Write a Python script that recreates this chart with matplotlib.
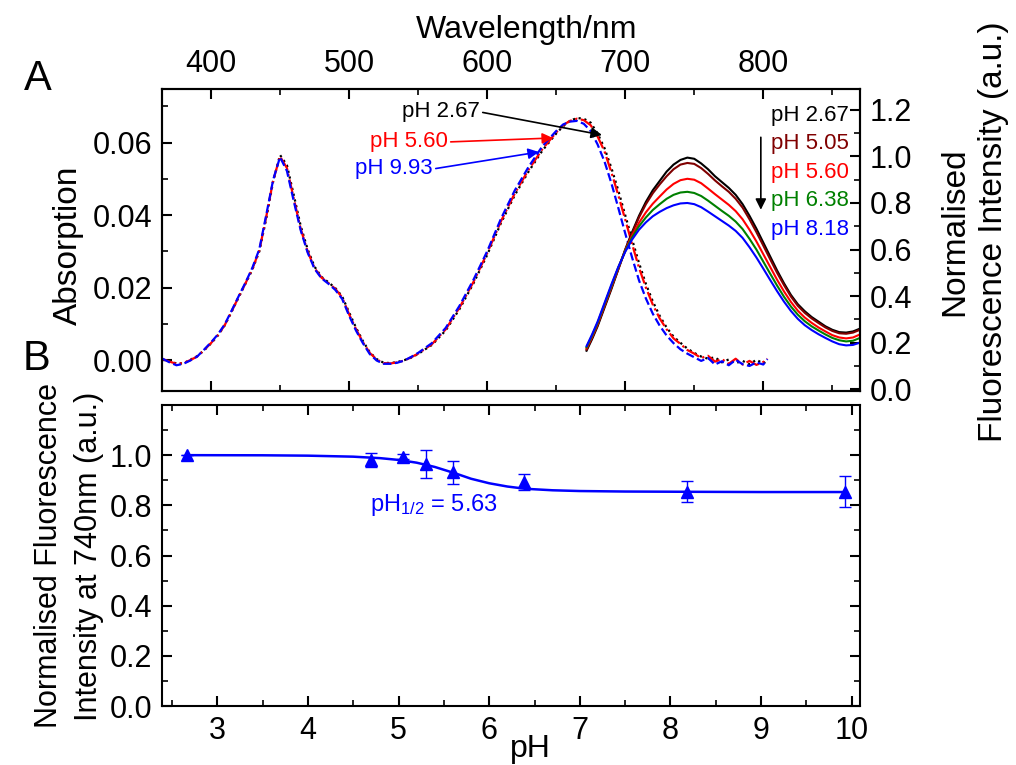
import matplotlib
matplotlib.use("Agg")
import matplotlib.pyplot as plt
from matplotlib.ticker import MultipleLocator, FormatStrFormatter, FixedLocator

plt.rcParams['font.family'] = ['Liberation Sans', 'DejaVu Sans']
plt.rcParams['mathtext.fontset'] = 'custom'
plt.rcParams['mathtext.rm'] = 'Liberation Sans'
plt.rcParams['mathtext.it'] = 'Liberation Sans:italic'

# ---- panel A: absorption spectra (left axis) ----
wl_abs = [365, 370, 375, 380, 385, 390, 395, 400, 405, 410, 415, 420, 425, 430, 435,
          440, 445, 450, 455, 460, 465, 470, 475, 480, 485, 490, 495, 500, 505, 510,
          515, 520, 525, 530, 535, 540, 545, 550, 560, 570, 580, 590, 600, 610, 620,
          630, 640, 650, 655, 660, 665, 670, 675, 680, 685, 690, 695, 700, 705, 710,
          715, 720, 725, 730, 735, 740, 745, 750, 755, 760, 765, 770, 775, 780, 785,
          790, 795, 800, 803]

abs_267 = [0.0001, -0.0003, -0.0009, -0.0009, 0.0001, 0.0011, 0.0027, 0.0046, 0.0068, 0.0096,
           0.0134, 0.0173, 0.0211, 0.0250, 0.0300, 0.0390, 0.0492, 0.0566, 0.0538, 0.0455,
           0.0370, 0.0306, 0.0258, 0.0230, 0.0215, 0.0199, 0.0176, 0.0132, 0.0090, 0.0053,
           0.0022, 0.0003, -0.0007, -0.0008, -0.0005, 0.0000, 0.0007, 0.0017, 0.0042, 0.0082,
           0.0141, 0.0211, 0.0290, 0.0378, 0.0455, 0.0520, 0.0578, 0.0625, 0.0645, 0.0660,
           0.0668, 0.0666, 0.0655, 0.0625, 0.0585, 0.0530, 0.0468, 0.0400, 0.0333, 0.0268,
           0.0210, 0.0162, 0.0122, 0.0090, 0.0065, 0.0048, 0.0032, 0.0020, 0.0010, 0.0004,
           0.0008, -0.0006, 0.0002, -0.0008, -0.0002, -0.0011, 0.0001, -0.0009, 0.0000]

abs_560 = [0.0003, -0.0004, -0.0010, -0.0008, 0.0000, 0.0010, 0.0028, 0.0047, 0.0069, 0.0097,
           0.0135, 0.0174, 0.0212, 0.0252, 0.0302, 0.0395, 0.0495, 0.0562, 0.0530, 0.0445,
           0.0362, 0.0300, 0.0254, 0.0228, 0.0213, 0.0197, 0.0173, 0.0127, 0.0086, 0.0050,
           0.0020, 0.0002, -0.0008, -0.0009, -0.0006, -0.0001, 0.0008, 0.0018, 0.0044, 0.0085,
           0.0145, 0.0215, 0.0295, 0.0383, 0.0460, 0.0525, 0.0582, 0.0628, 0.0648, 0.0660,
           0.0666, 0.0662, 0.0648, 0.0617, 0.0576, 0.0518, 0.0455, 0.0388, 0.0320, 0.0255,
           0.0200, 0.0153, 0.0115, 0.0085, 0.0060, 0.0045, 0.0028, 0.0018, 0.0006, 0.0012,
           -0.0004, 0.0003, -0.0010, 0.0004, -0.0012, -0.0002, -0.0013, -0.0005, 0.0004]

abs_993 = [0.0004, -0.0006, -0.0014, -0.0010, -0.0001, 0.0010, 0.0029, 0.0049, 0.0071, 0.0099,
           0.0137, 0.0176, 0.0214, 0.0255, 0.0306, 0.0400, 0.0497, 0.0560, 0.0522, 0.0438,
           0.0358, 0.0297, 0.0252, 0.0226, 0.0211, 0.0194, 0.0169, 0.0123, 0.0082, 0.0047,
           0.0017, -0.0001, -0.0010, -0.0010, -0.0007, -0.0001, 0.0009, 0.0020, 0.0047, 0.0089,
           0.0150, 0.0221, 0.0300, 0.0390, 0.0468, 0.0533, 0.0590, 0.0632, 0.0650, 0.0658,
           0.0660, 0.0652, 0.0632, 0.0595, 0.0548, 0.0488, 0.0420, 0.0350, 0.0283, 0.0220,
           0.0170, 0.0128, 0.0095, 0.0068, 0.0047, 0.0030, 0.0018, 0.0008, -0.0002, 0.0006,
           -0.0012, -0.0003, -0.0014, 0.0001, -0.0011, -0.0016, -0.0006, -0.0012, 0.0003]

# ---- panel A: fluorescence spectra (right axis) ----
wl_fl = [672, 676, 680, 685, 690, 695, 700, 705, 710, 715, 720, 725, 730, 735, 740,
         745, 750, 755, 760, 765, 770, 775, 780, 785, 790, 795, 800, 805, 810, 815,
         820, 825, 830, 835, 840, 845, 850, 855, 860, 865, 870]

fl_267 = [0.165, 0.215, 0.27, 0.35, 0.43, 0.515, 0.60, 0.675, 0.745, 0.805, 0.855, 0.895,
          0.935, 0.965, 0.985, 0.995, 0.99, 0.97, 0.945, 0.915, 0.89, 0.865, 0.835, 0.795,
          0.745, 0.69, 0.63, 0.57, 0.51, 0.455, 0.405, 0.365, 0.335, 0.31, 0.29, 0.27,
          0.255, 0.245, 0.243, 0.248, 0.26]
fl_505 = [0.17, 0.22, 0.275, 0.355, 0.435, 0.515, 0.598, 0.67, 0.738, 0.795, 0.842, 0.88,
          0.915, 0.945, 0.965, 0.972, 0.968, 0.95, 0.925, 0.897, 0.872, 0.848, 0.818, 0.78,
          0.73, 0.675, 0.617, 0.558, 0.50, 0.447, 0.398, 0.358, 0.328, 0.304, 0.284, 0.265,
          0.25, 0.24, 0.238, 0.243, 0.255]
fl_560 = [0.175, 0.225, 0.28, 0.36, 0.44, 0.52, 0.595, 0.66, 0.715, 0.76, 0.797, 0.828,
          0.858, 0.882, 0.898, 0.904, 0.90, 0.885, 0.862, 0.838, 0.815, 0.792, 0.765, 0.73,
          0.685, 0.635, 0.58, 0.525, 0.47, 0.42, 0.375, 0.337, 0.308, 0.285, 0.265, 0.248,
          0.232, 0.222, 0.218, 0.222, 0.235]
fl_638 = [0.18, 0.23, 0.285, 0.365, 0.445, 0.523, 0.593, 0.652, 0.70, 0.738, 0.77, 0.795,
          0.818, 0.835, 0.845, 0.848, 0.843, 0.83, 0.81, 0.788, 0.766, 0.745, 0.72, 0.688,
          0.646, 0.60, 0.548, 0.496, 0.445, 0.397, 0.355, 0.32, 0.292, 0.27, 0.252, 0.235,
          0.22, 0.21, 0.205, 0.208, 0.22]
fl_818 = [0.185, 0.235, 0.29, 0.37, 0.45, 0.525, 0.59, 0.643, 0.685, 0.717, 0.743, 0.762,
          0.778, 0.79, 0.798, 0.80, 0.795, 0.782, 0.763, 0.743, 0.723, 0.703, 0.68, 0.65,
          0.61, 0.566, 0.518, 0.469, 0.421, 0.376, 0.336, 0.302, 0.275, 0.254, 0.236, 0.22,
          0.205, 0.193, 0.188, 0.19, 0.20]

fl_labels = ['pH 2.67', 'pH 5.05', 'pH 5.60', 'pH 6.38', 'pH 8.18']
fl_colors = ['black', '#800000', 'red', 'green', 'blue']

# ---- panel B: normalised fluorescence at 740 nm vs pH ----
ph = [2.67, 4.70, 5.05, 5.30, 5.60, 6.38, 8.18, 9.93]
f740 = [1.0, 0.98, 0.993, 0.965, 0.931, 0.893, 0.855, 0.855]
f740_err = [0.0, 0.027, 0.01, 0.055, 0.046, 0.03, 0.042, 0.06]

fit_ph = [2.67, 3.5, 4.0, 4.5, 4.8, 5.0, 5.2, 5.4, 5.63, 5.8, 6.0, 6.2, 6.4, 6.7,
          7.0, 7.5, 8.2, 9.0, 9.93]
fit_y = [1.0, 0.9995, 0.998, 0.994, 0.988, 0.981, 0.970, 0.953, 0.927, 0.906, 0.888,
         0.875, 0.866, 0.860, 0.857, 0.855, 0.854, 0.853, 0.853]

fs_tick = 22
fs_lab = 23
fs_ann = 16

fig = plt.figure(figsize=(10.16, 7.65), dpi=100)
ax1 = fig.add_axes([0.1594, 0.4889, 0.687, 0.3948])
ax2 = ax1.twinx()
ax3 = fig.add_axes([0.1594, 0.0771, 0.687, 0.3935])

# absorption
ax1.plot(wl_abs, abs_267, color='black', linestyle=':', lw=1.6)
ax1.plot(wl_abs, abs_560, color='red', linestyle='-.', lw=1.6)
ax1.plot(wl_abs, abs_993, color='blue', linestyle='--', lw=1.6)
ax1.set_xlim(364.5, 870)
ax1.set_ylim(-0.0085, 0.0748)
ax1.xaxis.set_major_locator(MultipleLocator(100))
ax1.xaxis.set_minor_locator(MultipleLocator(50))
ax1.yaxis.set_major_locator(MultipleLocator(0.02))
ax1.yaxis.set_minor_locator(MultipleLocator(0.01))
ax1.yaxis.set_major_formatter(FormatStrFormatter('%.2f'))
ax1.tick_params(axis='x', which='both', direction='in', top=True, bottom=True,
                labeltop=True, labelbottom=False)
ax1.tick_params(axis='y', which='both', direction='in', left=True, right=False)

# fluorescence
for ys, c in zip([fl_267, fl_505, fl_560, fl_638, fl_818], fl_colors):
    ax2.plot(wl_fl, ys, color=c, lw=1.5)
ax2.set_ylim(-0.008, 1.29)
ax2.yaxis.set_major_locator(MultipleLocator(0.2))
ax2.yaxis.set_minor_locator(MultipleLocator(0.1))
ax2.yaxis.set_major_formatter(FormatStrFormatter('%.1f'))
ax2.tick_params(axis='y', which='both', direction='in', right=True, left=False)

# panel B
ax3.plot(fit_ph, fit_y, color='blue', lw=1.8)
ax3.errorbar(ph, f740, yerr=f740_err, fmt='^', color='blue', ms=9,
             elinewidth=1, capsize=4, capthick=1)
ax3.set_xlim(2.39, 10.09)
ax3.set_ylim(0, 1.2)
ax3.xaxis.set_major_locator(MultipleLocator(1))
ax3.xaxis.set_minor_locator(MultipleLocator(0.5))
ax3.yaxis.set_major_locator(FixedLocator([0.0, 0.2, 0.4, 0.6, 0.8, 1.0]))
ax3.yaxis.set_minor_locator(MultipleLocator(0.1))
ax3.yaxis.set_major_formatter(FormatStrFormatter('%.1f'))
ax3.tick_params(which='both', direction='in', top=True, right=True)

for a in (ax1, ax2, ax3):
    for s in a.spines.values():
        s.set_linewidth(1.5)
    a.tick_params(which='major', length=7, width=1.5, labelsize=fs_tick, pad=7)
    a.tick_params(which='minor', length=4, width=1.2)

# arrows to absorption curves
arrow_kw = dict(arrowstyle='-|>', lw=1.2, mutation_scale=16, shrinkA=0, shrinkB=0,
                relpos=(1, 0.5))
ax1.annotate('pH 2.67', xy=(0.6304, 0.8477), xytext=(0.4556, 0.924),
             xycoords='axes fraction', textcoords='axes fraction', ha='right',
             va='center', fontsize=fs_ann, color='black',
             arrowprops=dict(color='black', **arrow_kw))
ax1.annotate('pH 5.60', xy=(0.5602, 0.8377), xytext=(0.4097, 0.8245),
             xycoords='axes fraction', textcoords='axes fraction', ha='right',
             va='center', fontsize=fs_ann, color='red',
             arrowprops=dict(color='red', **arrow_kw))
ax1.annotate('pH 9.93', xy=(0.5401, 0.7914), xytext=(0.3883, 0.7351),
             xycoords='axes fraction', textcoords='axes fraction', ha='right',
             va='center', fontsize=fs_ann, color='blue',
             arrowprops=dict(color='blue', **arrow_kw))

# fluorescence labels
for i, (lab, c) in enumerate(zip(fl_labels, fl_colors)):
    ax2.text(0.984, 0.912 - i * 0.094, lab, transform=ax2.transAxes, ha='right',
             va='center', fontsize=fs_ann, color=c)
ax2.annotate('', xy=(0.858, 0.60), xytext=(0.858, 0.84), xycoords='axes fraction',
             textcoords='axes fraction',
             arrowprops=dict(arrowstyle='-|>', color='black', lw=1.2,
                             mutation_scale=16, shrinkA=0, shrinkB=0))

ax3.text(4.69, 0.80, r'pH$_{\mathregular{1/2}}$ = 5.63', color='blue',
         fontsize=17, ha='left', va='center')

# axis titles
fig.text(527 / 1016, 1 - 30 / 765, 'Wavelength/nm', fontsize=fs_lab, ha='center',
         va='center')
fig.text(68 / 1016, 1 - 245 / 765, 'Absorption', fontsize=fs_lab + 1, rotation=90,
         ha='center', va='center')
fig.text(974 / 1016, 1 - 232 / 765, 'Normalised\nFluorescence Intensity (a.u.)',
         fontsize=fs_lab + 1, rotation=90, ha='center', va='center',
         multialignment='center', linespacing=1.35)
fig.text(69 / 1016, 1 - 556 / 765, 'Normalised Fluorescence\nIntensity at 740nm (a.u.)',
         fontsize=22, rotation=90, ha='center', va='center',
         multialignment='center', linespacing=1.4)
fig.text(530 / 1016, 1 - 749 / 765, 'pH', fontsize=fs_lab, ha='center', va='center')
fig.text(38 / 1016, 1 - 79 / 765, 'A', fontsize=30, ha='center', va='center')
fig.text(37 / 1016, 1 - 359 / 765, 'B', fontsize=30, ha='center', va='center')

fig.savefig('out.png', dpi=100)
